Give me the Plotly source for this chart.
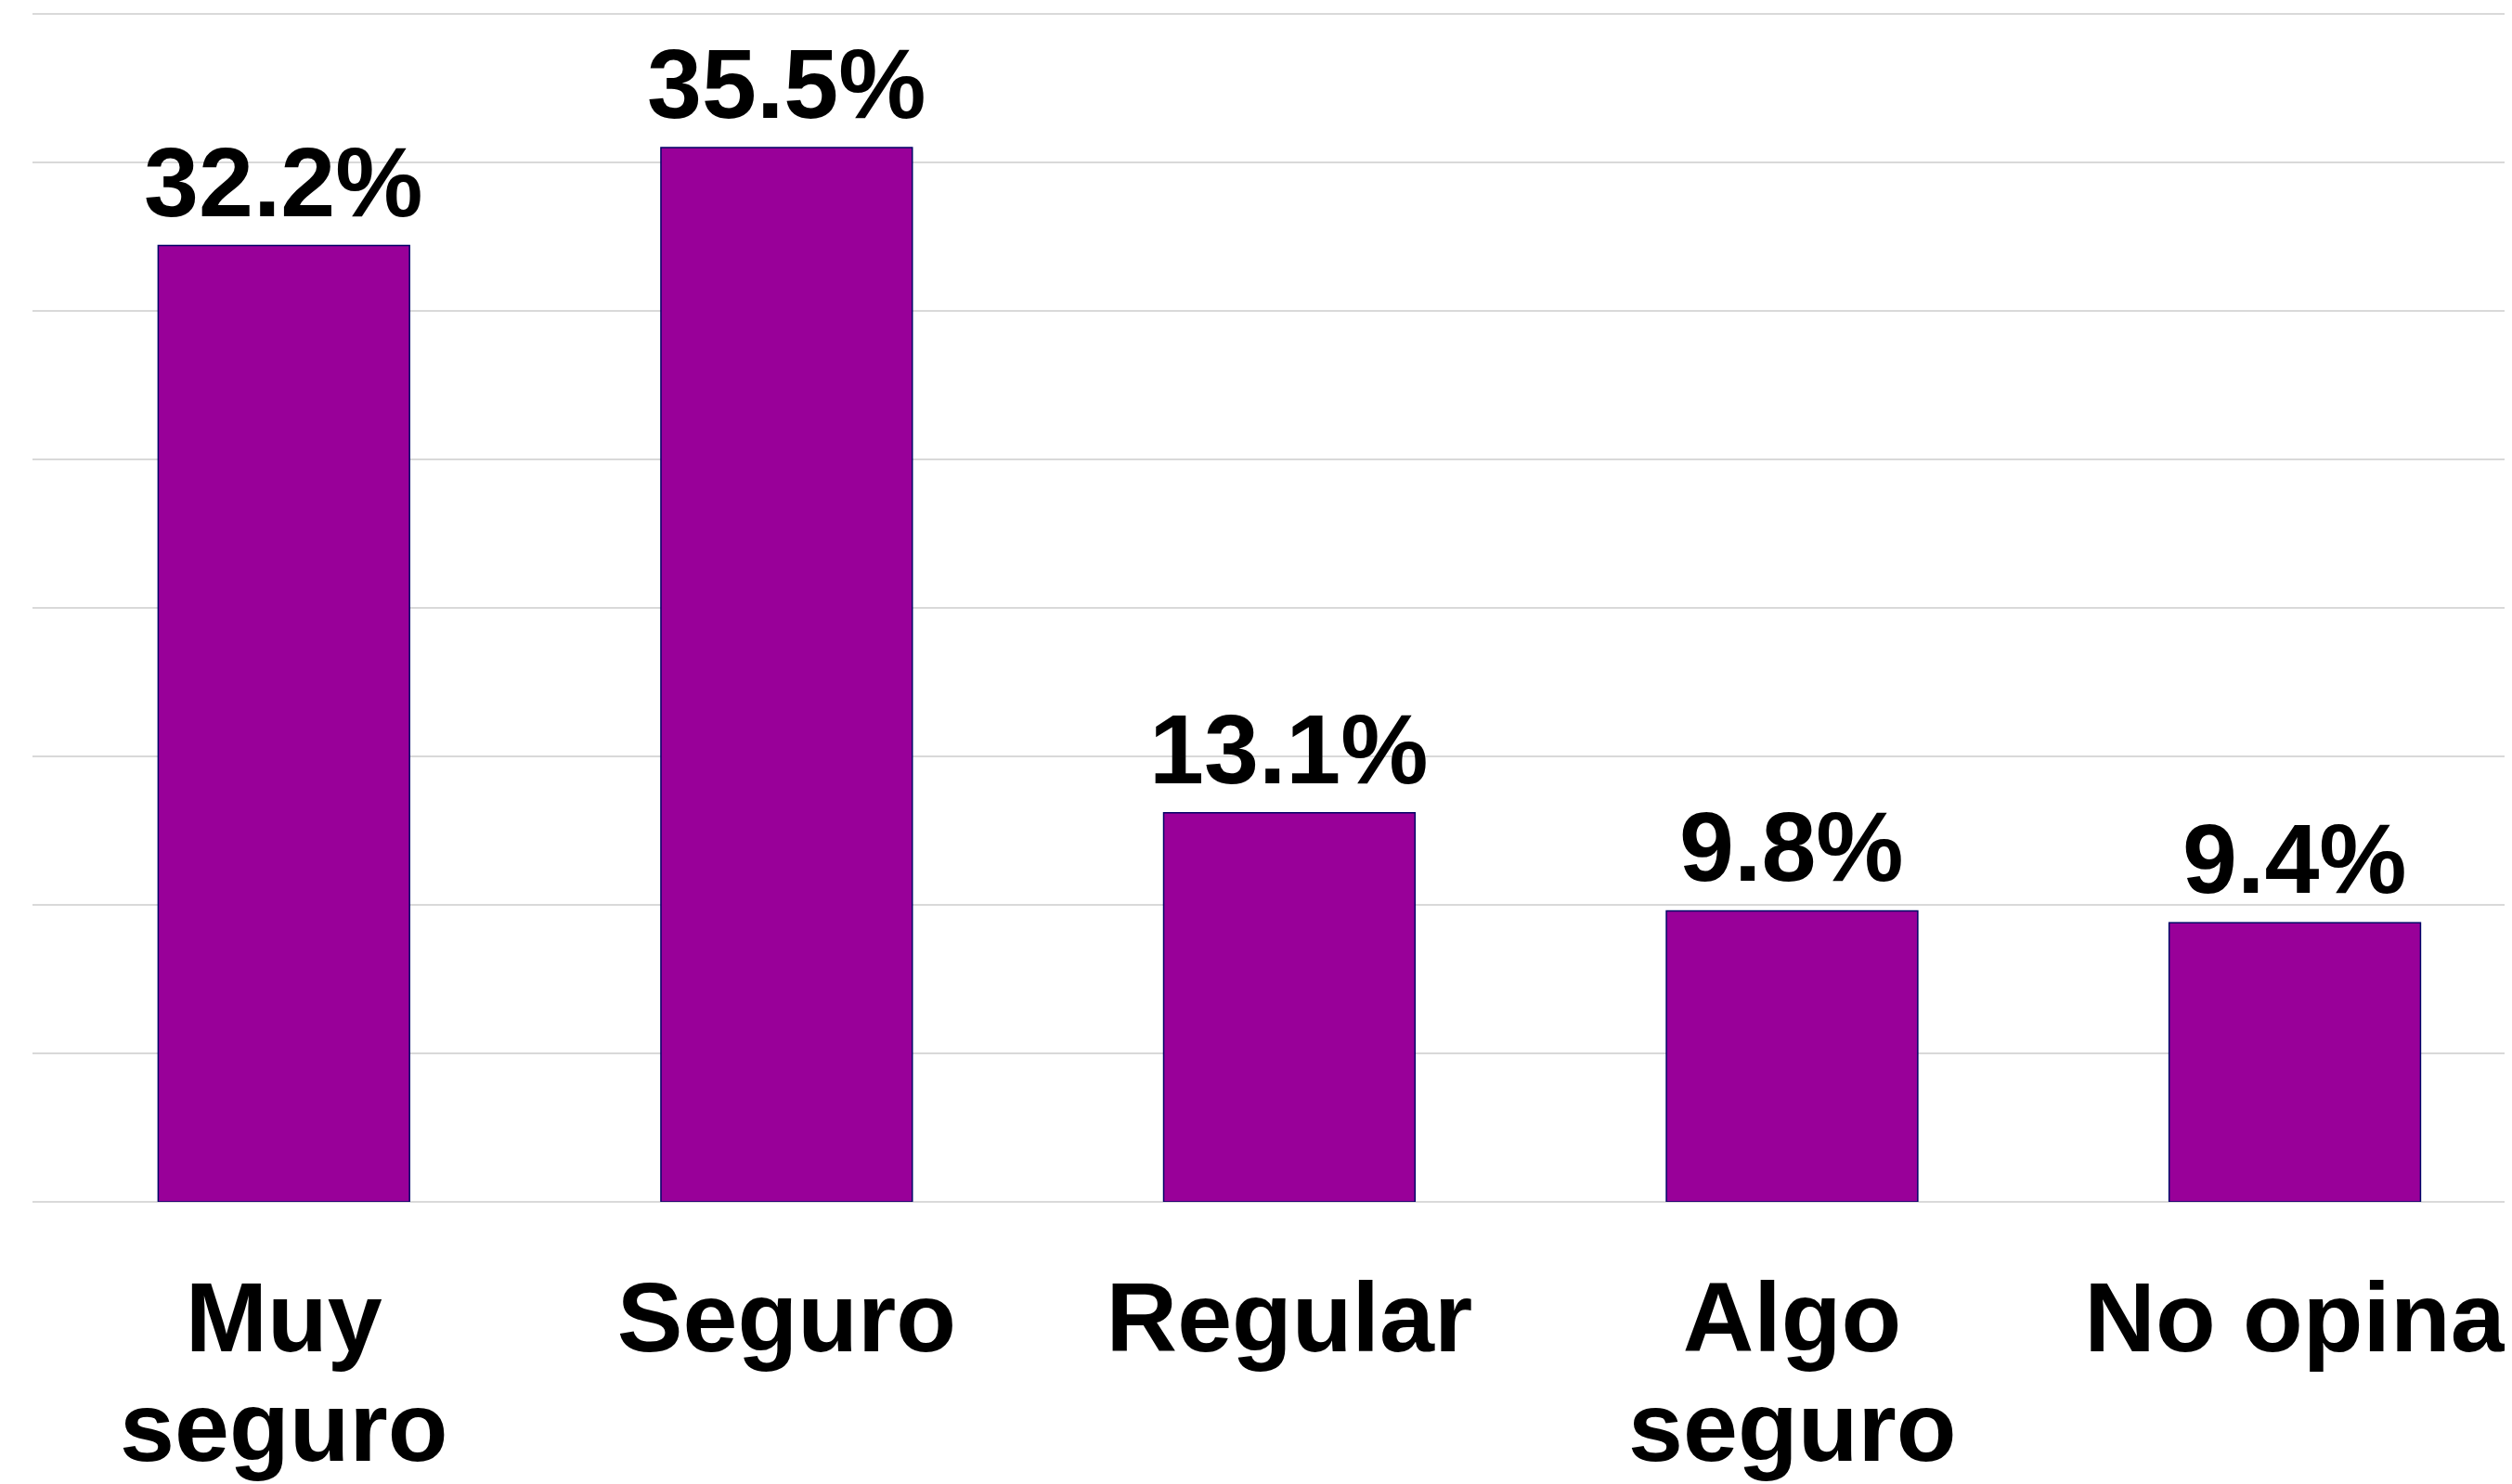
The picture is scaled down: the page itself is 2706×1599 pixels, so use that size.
import plotly.graph_objects as go

categorias = ["Muy seguro", "Seguro", "Regular", "Algo seguro", "No opina"]
linea1 = ["Muy", "Seguro", "Regular", "Algo", "No opina"]
linea2 = ["seguro", "", "", "seguro", ""]
valores = [32.2, 35.5, 13.1, 9.8, 9.4]
etiquetas = ["32.2%", "35.5%", "13.1%", "9.8%", "9.4%"]

fuente = "Liberation Sans, Arial, Helvetica, sans-serif"

fig = go.Figure(go.Bar(x=categorias, y=valores,
                       marker=dict(color="#990099", line=dict(color="#000066", width=1.5)),
                       cliponaxis=False))

# etiquetas de valor sobre las barras
for c, v, t in zip(categorias, valores, etiquetas):
    fig.add_annotation(x=c, y=v, text="<b>" + t + "</b>", showarrow=False,
                       yanchor="bottom", yshift=8,
                       font=dict(family=fuente, size=106, color="black"))

# segunda linea de las etiquetas del eje x
for c, t in zip(categorias, linea2):
    if t:
        fig.add_annotation(x=c, y=0, yref="y", text="<b>" + t + "</b>", showarrow=False,
                           yanchor="top", yshift=-181,
                           font=dict(family=fuente, size=106, color="black"))

# la pagina tiene 8px de margen en el body
fig.update_layout(width=2698, height=1591, margin=dict(l=27, r=0, t=1, b=304),
                  plot_bgcolor="white", paper_bgcolor="white",
                  showlegend=False, bargap=0.5,
                  xaxis=dict(range=[-0.5, 4.432], tickvals=categorias,
                             ticktext=["<b>" + t + "</b>" for t in linea1],
                             tickfont=dict(family=fuente, size=106, color="black"),
                             showgrid=False, showline=False, ticks="", automargin=False,
                             ticklabelstandoff=54),
                  yaxis=dict(range=[0, 40.1875], tickvals=[5, 10, 15, 20, 25, 30, 35, 40],
                             showticklabels=False, automargin=False,
                             gridcolor="#d9d9d9", gridwidth=2,
                             zeroline=True, zerolinecolor="#d9d9d9", zerolinewidth=2))

fig.write_html("out.html")
